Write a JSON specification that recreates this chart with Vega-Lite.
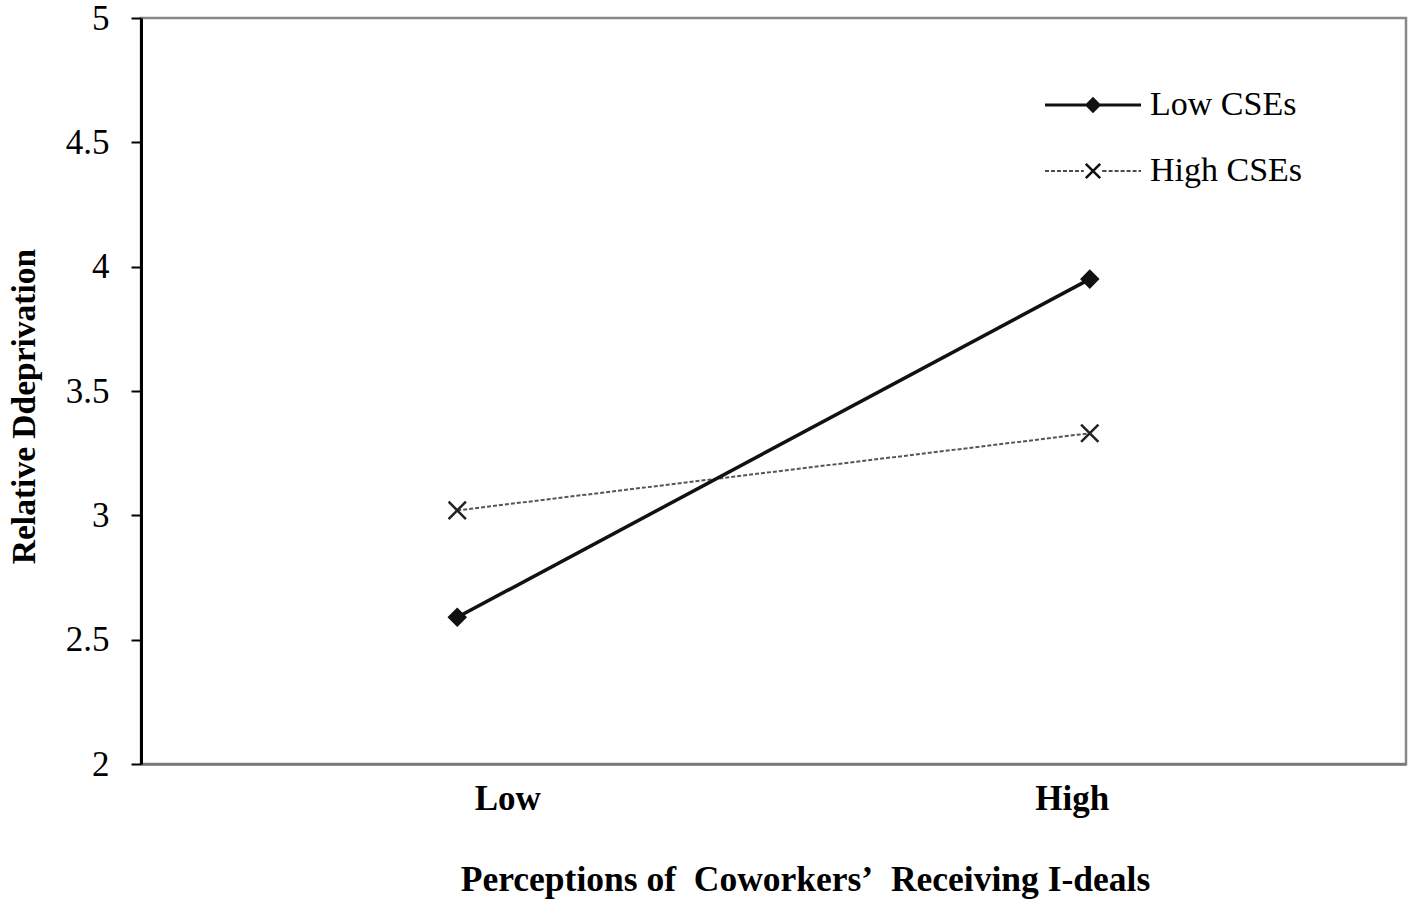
{
  "$schema": "https://vega.github.io/schema/vega-lite/v6.json",
  "autosize": "none",
  "width": 1265,
  "height": 746,
  "padding": {"left": 141, "top": 18, "right": 11, "bottom": 141},
  "background": "white",
  "config": {
    "view": {"stroke": "#888888", "strokeWidth": 2.5},
    "font": "Liberation Serif"
  },
  "data": {
    "values": [
      {"ideals": "Low", "cse": "Low CSEs", "rd": 2.59},
      {"ideals": "High", "cse": "Low CSEs", "rd": 3.95},
      {"ideals": "Low", "cse": "High CSEs", "rd": 3.02},
      {"ideals": "High", "cse": "High CSEs", "rd": 3.33}
    ]
  },
  "encoding": {
    "x": {
      "field": "ideals",
      "type": "ordinal",
      "scale": {"type": "point", "domain": ["Low", "High"], "padding": 0.5},
      "axis": {
        "title": "Perceptions of\u00a0 Coworkers\u2019\u00a0 Receiving I-deals",
        "titleFont": "Liberation Serif",
        "titleFontSize": 35.5,
        "titleFontWeight": "bold",
        "titleColor": "black",
        "titleX": 664,
        "titleY": 126,
        "titleBaseline": "alphabetic",
        "titleAlign": "center",
        "labelFont": "Liberation Serif",
        "labelFontSize": 35,
        "labelFontWeight": "bold",
        "labelColor": "black",
        "labelAngle": 0,
        "labelBaseline": "alphabetic",
        "labelPadding": 45,
        "labelOffset": {"condition": {"test": "datum.value === 'Low'", "value": 50}, "value": -18},
        "ticks": false,
        "tickSize": 0,
        "domainColor": "#777777",
        "domainWidth": 2.5,
        "grid": false
      }
    },
    "y": {
      "field": "rd",
      "type": "quantitative",
      "scale": {"domain": [2, 5], "nice": false, "zero": false},
      "axis": {
        "title": "Relative Ddeprivation",
        "titleFont": "Liberation Serif",
        "titleFontSize": 33.5,
        "titleFontWeight": "bold",
        "titleColor": "black",
        "titleAngle": -90,
        "titleX": -107,
        "titleY": 388,
        "titleBaseline": "alphabetic",
        "titleAlign": "center",
        "values": [2, 2.5, 3, 3.5, 4, 4.5, 5],
        "format": "~g",
        "labelFont": "Liberation Serif",
        "labelFontSize": 35,
        "labelColor": "black",
        "labelPadding": 22,
        "tickSize": 10,
        "tickColor": "black",
        "tickWidth": 2,
        "domainColor": "black",
        "domainWidth": 3,
        "grid": false
      }
    }
  },
  "layer": [
    {
      "transform": [{"filter": "datum.cse === 'High CSEs'"}],
      "mark": {"type": "line", "color": "#555555", "strokeDash": [4, 2], "strokeWidth": 2},
      "encoding": {}
    },
    {
      "transform": [{"filter": "datum.cse === 'Low CSEs'"}],
      "mark": {"type": "line", "color": "#111111", "strokeWidth": 3.5},
      "encoding": {}
    },
    {
      "transform": [{"filter": "datum.cse === 'Low CSEs'"}],
      "mark": {"type": "point", "shape": "diamond", "filled": true, "fill": "#111111", "stroke": "#111111", "strokeWidth": 2, "size": 280, "opacity": 1},
      "encoding": {}
    },
    {
      "transform": [{"filter": "datum.cse === 'High CSEs'"}],
      "mark": {"type": "point", "shape": "M-1,-1L1,1M-1,1L1,-1", "filled": false, "stroke": "#222222", "strokeWidth": 2.5, "size": 300, "opacity": 1},
      "encoding": {}
    },
    {
      "mark": {"type": "point", "filled": true, "fill": "#111111", "stroke": "#222222", "strokeWidth": 1.6, "size": 9216, "opacity": 0},
      "encoding": {
        "shape": {
          "field": "cse",
          "type": "nominal",
          "scale": {
            "domain": ["Low CSEs", "High CSEs"],
            "range": [
              "M-1,-0.032H1V0.032H-1ZM0,-0.17L0.17,0L0,0.17L-0.17,0Z",
              "M-1,-0.015H-0.917V0.015H-1ZM-0.875,-0.015H-0.792V0.015H-0.875ZM-0.75,-0.015H-0.667V0.015H-0.75ZM-0.625,-0.015H-0.542V0.015H-0.625ZM-0.5,-0.015H-0.417V0.015H-0.5ZM-0.375,-0.015H-0.292V0.015H-0.375ZM-0.25,-0.015H-0.19V0.015H-0.25ZM0.19,-0.015H0.283V0.015H0.19ZM0.325,-0.015H0.408V0.015H0.325ZM0.45,-0.015H0.533V0.015H0.45ZM0.575,-0.015H0.658V0.015H0.575ZM0.7,-0.015H0.783V0.015H0.7ZM0.825,-0.015H0.908V0.015H0.825ZM0.95,-0.015H1V0.015H0.95ZM-0.131,-0.169L0.169,0.131L0.131,0.169L-0.169,-0.131ZM-0.169,0.131L0.131,-0.169L0.169,-0.131L-0.131,0.169Z"
            ]
          },
          "legend": {
            "title": null,
            "orient": "none",
            "legendX": 903,
            "legendY": 38,
            "rowPadding": -4,
            "symbolSize": 9216,
            "symbolOpacity": 1,
            "symbolFillColor": "#111111",
            "symbolStrokeColor": "#222222",
            "symbolStrokeWidth": 1.6,
            "labelOffset": 8,
            "labelFont": "Liberation Serif",
            "labelFontSize": 34,
            "labelColor": "black",
            "labelLimit": 400
          }
        }
      }
    }
  ]
}
